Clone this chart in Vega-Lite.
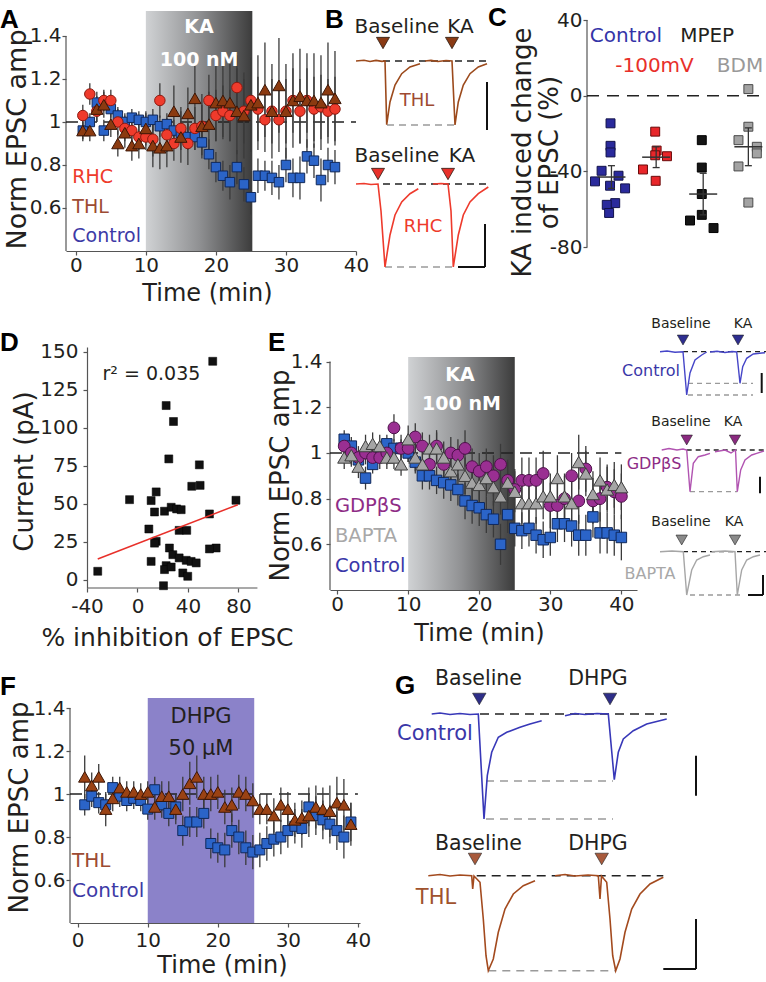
{
"$schema": "https://vega.github.io/schema/vega-lite/v6.json",
"padding": {"left": 0, "top": 5, "right": 0, "bottom": 0},
"config": {
  "font": "DejaVu Sans",
  "view": {"stroke": null},
  "axis": {"grid": false, "labelFont": "DejaVu Sans", "titleFont": "DejaVu Sans", "labelFontSize": 20, "labelColor": "#231f20", "titleColor": "#231f20", "titleFontWeight": "normal", "domainColor": "#555555", "domainWidth": 1.2, "tickColor": "#555555", "tickWidth": 1.2, "tickSize": 4, "labelFlush": false, "labelOverlap": false, "labelBound": false},
  "title": {"font": "Liberation Sans", "fontSize": 26, "fontWeight": "bold", "color": "#000000", "anchor": "start", "frame": "group", "offset": 0, "baseline": "alphabetic"},
  "text": {"font": "DejaVu Sans"}
},
"datasets": {
"A": [
{"g":"Control","t":1,"v":0.96,"e":0.04},{"g":"Control","t":2,"v":1.0,"e":0.04},{"g":"Control","t":3,"v":1.09,"e":0.05},{"g":"Control","t":4,"v":0.96,"e":0.05},{"g":"Control","t":5,"v":1.06,"e":0.04},{"g":"Control","t":6,"v":1.03,"e":0.04},{"g":"Control","t":7,"v":1.0,"e":0.04},{"g":"Control","t":8,"v":1.02,"e":0.04},{"g":"Control","t":9,"v":1.01,"e":0.04},{"g":"Control","t":10,"v":1.0,"e":0.04},{"g":"Control","t":11,"v":1.01,"e":0.05},{"g":"Control","t":12,"v":0.98,"e":0.05},{"g":"Control","t":13,"v":0.99,"e":0.05},{"g":"Control","t":14,"v":0.96,"e":0.05},{"g":"Control","t":15,"v":0.95,"e":0.05},{"g":"Control","t":16,"v":0.93,"e":0.06},{"g":"Control","t":17,"v":0.93,"e":0.06},{"g":"Control","t":18,"v":0.905,"e":0.06},{"g":"Control","t":19,"v":0.85,"e":0.07},{"g":"Control","t":20,"v":0.79,"e":0.07},{"g":"Control","t":21,"v":0.75,"e":0.07},{"g":"Control","t":22,"v":0.72,"e":0.08},{"g":"Control","t":23,"v":0.79,"e":0.08},{"g":"Control","t":24,"v":0.71,"e":0.08},{"g":"Control","t":25,"v":0.65,"e":0.08},{"g":"Control","t":26,"v":0.75,"e":0.08},{"g":"Control","t":27,"v":0.75,"e":0.07},{"g":"Control","t":28,"v":0.74,"e":0.08},{"g":"Control","t":29,"v":0.72,"e":0.08},{"g":"Control","t":30,"v":0.8,"e":0.08},{"g":"Control","t":31,"v":0.74,"e":0.09},{"g":"Control","t":32,"v":0.74,"e":0.1},{"g":"Control","t":33,"v":0.84,"e":0.08},{"g":"Control","t":34,"v":0.82,"e":0.08},{"g":"Control","t":35,"v":0.73,"e":0.1},{"g":"Control","t":36,"v":0.8,"e":0.08},{"g":"Control","t":37,"v":0.79,"e":0.08},
{"g":"RHC","t":1,"v":1.03,"e":0.05},{"g":"RHC","t":2,"v":1.13,"e":0.05},{"g":"RHC","t":3,"v":1.05,"e":0.05},{"g":"RHC","t":4,"v":1.1,"e":0.05},{"g":"RHC","t":5,"v":1.1,"e":0.05},{"g":"RHC","t":6,"v":1.0,"e":0.06},{"g":"RHC","t":7,"v":0.97,"e":0.06},{"g":"RHC","t":8,"v":0.96,"e":0.06},{"g":"RHC","t":9,"v":0.93,"e":0.06},{"g":"RHC","t":10,"v":0.93,"e":0.06},{"g":"RHC","t":11,"v":0.92,"e":0.08},{"g":"RHC","t":12,"v":1.1,"e":0.08},{"g":"RHC","t":13,"v":0.94,"e":0.08},{"g":"RHC","t":14,"v":0.9,"e":0.08},{"g":"RHC","t":15,"v":0.97,"e":0.1},{"g":"RHC","t":16,"v":0.9,"e":0.1},{"g":"RHC","t":17,"v":0.97,"e":0.1},{"g":"RHC","t":18,"v":0.98,"e":0.1},{"g":"RHC","t":19,"v":1.1,"e":0.12},{"g":"RHC","t":20,"v":1.03,"e":0.12},{"g":"RHC","t":21,"v":1.05,"e":0.12},{"g":"RHC","t":22,"v":1.03,"e":0.12},{"g":"RHC","t":23,"v":1.16,"e":0.15},{"g":"RHC","t":24,"v":1.05,"e":0.15},{"g":"RHC","t":25,"v":1.1,"e":0.15},{"g":"RHC","t":26,"v":1.06,"e":0.15},{"g":"RHC","t":27,"v":1.01,"e":0.15},{"g":"RHC","t":28,"v":1.05,"e":0.15},{"g":"RHC","t":29,"v":1.01,"e":0.15},{"g":"RHC","t":30,"v":1.05,"e":0.15},{"g":"RHC","t":31,"v":1.1,"e":0.15},{"g":"RHC","t":32,"v":1.05,"e":0.15},{"g":"RHC","t":33,"v":1.1,"e":0.15},{"g":"RHC","t":34,"v":1.06,"e":0.15},{"g":"RHC","t":35,"v":1.07,"e":0.15},{"g":"RHC","t":36,"v":1.05,"e":0.15},{"g":"RHC","t":37,"v":1.06,"e":0.15},
{"g":"THL","t":1,"v":0.96,"e":0.05},{"g":"THL","t":2,"v":0.96,"e":0.05},{"g":"THL","t":3,"v":1.06,"e":0.06},{"g":"THL","t":4,"v":1.08,"e":0.06},{"g":"THL","t":5,"v":0.99,"e":0.06},{"g":"THL","t":6,"v":0.9,"e":0.06},{"g":"THL","t":7,"v":0.95,"e":0.07},{"g":"THL","t":8,"v":0.89,"e":0.07},{"g":"THL","t":9,"v":0.9,"e":0.07},{"g":"THL","t":10,"v":0.97,"e":0.08},{"g":"THL","t":11,"v":0.89,"e":0.1},{"g":"THL","t":12,"v":0.88,"e":0.1},{"g":"THL","t":13,"v":0.89,"e":0.1},{"g":"THL","t":14,"v":1.05,"e":0.12},{"g":"THL","t":15,"v":0.93,"e":0.12},{"g":"THL","t":16,"v":1.04,"e":0.12},{"g":"THL","t":17,"v":1.11,"e":0.15},{"g":"THL","t":18,"v":0.98,"e":0.15},{"g":"THL","t":19,"v":0.99,"e":0.15},{"g":"THL","t":20,"v":1.09,"e":0.18},{"g":"THL","t":21,"v":1.1,"e":0.18},{"g":"THL","t":22,"v":1.09,"e":0.18},{"g":"THL","t":23,"v":1.05,"e":0.2},{"g":"THL","t":24,"v":1.03,"e":0.2},{"g":"THL","t":25,"v":1.08,"e":0.22},{"g":"THL","t":26,"v":1.09,"e":0.22},{"g":"THL","t":27,"v":1.15,"e":0.22},{"g":"THL","t":28,"v":1.05,"e":0.22},{"g":"THL","t":29,"v":1.17,"e":0.22},{"g":"THL","t":30,"v":1.05,"e":0.22},{"g":"THL","t":31,"v":1.1,"e":0.22},{"g":"THL","t":32,"v":1.12,"e":0.22},{"g":"THL","t":33,"v":1.1,"e":0.22},{"g":"THL","t":34,"v":1.1,"e":0.22},{"g":"THL","t":35,"v":1.09,"e":0.22},{"g":"THL","t":36,"v":1.15,"e":0.22},{"g":"THL","t":37,"v":1.11,"e":0.22}
],
"E": [
{"g":"Control","t":1,"v":1.06,"e":0.04},{"g":"Control","t":2,"v":1.03,"e":0.04},{"g":"Control","t":3,"v":0.97,"e":0.04},{"g":"Control","t":4,"v":0.89,"e":0.05},{"g":"Control","t":5,"v":0.95,"e":0.04},{"g":"Control","t":6,"v":1.0,"e":0.04},{"g":"Control","t":7,"v":1.04,"e":0.04},{"g":"Control","t":8,"v":1.02,"e":0.04},{"g":"Control","t":9,"v":1.02,"e":0.04},{"g":"Control","t":10,"v":1.0,"e":0.04},{"g":"Control","t":11,"v":0.96,"e":0.05},{"g":"Control","t":12,"v":0.9,"e":0.06},{"g":"Control","t":13,"v":0.9,"e":0.06},{"g":"Control","t":14,"v":0.88,"e":0.06},{"g":"Control","t":15,"v":0.87,"e":0.07},{"g":"Control","t":16,"v":0.86,"e":0.07},{"g":"Control","t":17,"v":0.84,"e":0.07},{"g":"Control","t":18,"v":0.79,"e":0.08},{"g":"Control","t":19,"v":0.77,"e":0.08},{"g":"Control","t":20,"v":0.76,"e":0.08},{"g":"Control","t":21,"v":0.73,"e":0.08},{"g":"Control","t":22,"v":0.71,"e":0.08},{"g":"Control","t":23,"v":0.6,"e":0.09},{"g":"Control","t":24,"v":0.73,"e":0.08},{"g":"Control","t":25,"v":0.67,"e":0.08},{"g":"Control","t":26,"v":0.66,"e":0.08},{"g":"Control","t":27,"v":0.67,"e":0.08},{"g":"Control","t":28,"v":0.64,"e":0.08},{"g":"Control","t":29,"v":0.62,"e":0.08},{"g":"Control","t":30,"v":0.63,"e":0.08},{"g":"Control","t":31,"v":0.69,"e":0.08},{"g":"Control","t":32,"v":0.69,"e":0.08},{"g":"Control","t":33,"v":0.68,"e":0.09},{"g":"Control","t":34,"v":0.64,"e":0.09},{"g":"Control","t":35,"v":0.64,"e":0.09},{"g":"Control","t":36,"v":0.72,"e":0.09},{"g":"Control","t":37,"v":0.65,"e":0.09},{"g":"Control","t":38,"v":0.65,"e":0.09},{"g":"Control","t":39,"v":0.64,"e":0.09},{"g":"Control","t":40,"v":0.63,"e":0.1},
{"g":"GDP","t":1,"v":1.03,"e":0.05},{"g":"GDP","t":2,"v":1.0,"e":0.05},{"g":"GDP","t":3,"v":0.98,"e":0.05},{"g":"GDP","t":4,"v":1.0,"e":0.05},{"g":"GDP","t":5,"v":0.98,"e":0.05},{"g":"GDP","t":6,"v":0.98,"e":0.05},{"g":"GDP","t":7,"v":1.0,"e":0.05},{"g":"GDP","t":8,"v":1.11,"e":0.06},{"g":"GDP","t":9,"v":1.02,"e":0.06},{"g":"GDP","t":10,"v":1.02,"e":0.06},{"g":"GDP","t":11,"v":1.07,"e":0.06},{"g":"GDP","t":12,"v":1.03,"e":0.06},{"g":"GDP","t":13,"v":0.95,"e":0.06},{"g":"GDP","t":14,"v":1.03,"e":0.07},{"g":"GDP","t":15,"v":0.95,"e":0.07},{"g":"GDP","t":16,"v":1.0,"e":0.07},{"g":"GDP","t":17,"v":0.99,"e":0.07},{"g":"GDP","t":18,"v":1.02,"e":0.08},{"g":"GDP","t":19,"v":0.94,"e":0.08},{"g":"GDP","t":20,"v":0.92,"e":0.08},{"g":"GDP","t":21,"v":0.94,"e":0.08},{"g":"GDP","t":22,"v":0.9,"e":0.09},{"g":"GDP","t":23,"v":0.95,"e":0.09},{"g":"GDP","t":24,"v":0.88,"e":0.09},{"g":"GDP","t":25,"v":0.84,"e":0.09},{"g":"GDP","t":26,"v":0.88,"e":0.1},{"g":"GDP","t":27,"v":0.88,"e":0.1},{"g":"GDP","t":28,"v":0.88,"e":0.1},{"g":"GDP","t":29,"v":0.91,"e":0.1},{"g":"GDP","t":30,"v":0.77,"e":0.1},{"g":"GDP","t":31,"v":0.77,"e":0.1},{"g":"GDP","t":32,"v":0.8,"e":0.1},{"g":"GDP","t":33,"v":0.9,"e":0.1},{"g":"GDP","t":34,"v":0.79,"e":0.1},{"g":"GDP","t":35,"v":0.93,"e":0.1},{"g":"GDP","t":36,"v":0.79,"e":0.1},{"g":"GDP","t":37,"v":0.8,"e":0.1},{"g":"GDP","t":38,"v":0.85,"e":0.1},{"g":"GDP","t":39,"v":0.83,"e":0.1},{"g":"GDP","t":40,"v":0.81,"e":0.1},
{"g":"BAPTA","t":1,"v":0.98,"e":0.05},{"g":"BAPTA","t":2,"v":0.99,"e":0.05},{"g":"BAPTA","t":3,"v":0.94,"e":0.05},{"g":"BAPTA","t":4,"v":1.03,"e":0.05},{"g":"BAPTA","t":5,"v":1.04,"e":0.05},{"g":"BAPTA","t":6,"v":1.03,"e":0.05},{"g":"BAPTA","t":7,"v":0.98,"e":0.05},{"g":"BAPTA","t":8,"v":0.98,"e":0.05},{"g":"BAPTA","t":9,"v":0.95,"e":0.05},{"g":"BAPTA","t":10,"v":1.06,"e":0.06},{"g":"BAPTA","t":11,"v":0.98,"e":0.06},{"g":"BAPTA","t":12,"v":0.95,"e":0.06},{"g":"BAPTA","t":13,"v":1.02,"e":0.06},{"g":"BAPTA","t":14,"v":1.02,"e":0.07},{"g":"BAPTA","t":15,"v":0.98,"e":0.07},{"g":"BAPTA","t":16,"v":0.92,"e":0.07},{"g":"BAPTA","t":17,"v":0.95,"e":0.07},{"g":"BAPTA","t":18,"v":0.9,"e":0.08},{"g":"BAPTA","t":19,"v":0.87,"e":0.08},{"g":"BAPTA","t":20,"v":0.86,"e":0.08},{"g":"BAPTA","t":21,"v":0.89,"e":0.08},{"g":"BAPTA","t":22,"v":0.85,"e":0.08},{"g":"BAPTA","t":23,"v":0.81,"e":0.08},{"g":"BAPTA","t":24,"v":0.87,"e":0.09},{"g":"BAPTA","t":25,"v":0.83,"e":0.09},{"g":"BAPTA","t":26,"v":0.78,"e":0.09},{"g":"BAPTA","t":27,"v":0.78,"e":0.09},{"g":"BAPTA","t":28,"v":0.78,"e":0.09},{"g":"BAPTA","t":29,"v":0.81,"e":0.1},{"g":"BAPTA","t":30,"v":0.81,"e":0.1},{"g":"BAPTA","t":31,"v":0.89,"e":0.1},{"g":"BAPTA","t":32,"v":0.81,"e":0.1},{"g":"BAPTA","t":33,"v":0.78,"e":0.1},{"g":"BAPTA","t":34,"v":0.96,"e":0.12},{"g":"BAPTA","t":35,"v":0.91,"e":0.1},{"g":"BAPTA","t":36,"v":0.82,"e":0.1},{"g":"BAPTA","t":37,"v":0.88,"e":0.1},{"g":"BAPTA","t":38,"v":0.84,"e":0.1},{"g":"BAPTA","t":39,"v":0.86,"e":0.1},{"g":"BAPTA","t":40,"v":0.85,"e":0.1}
],
"F": [
{"g":"Control","t":1,"v":0.95,"e":0.05},{"g":"Control","t":2,"v":0.99,"e":0.05},{"g":"Control","t":3,"v":0.96,"e":0.05},{"g":"Control","t":4,"v":0.95,"e":0.05},{"g":"Control","t":5,"v":1.03,"e":0.05},{"g":"Control","t":6,"v":0.99,"e":0.05},{"g":"Control","t":7,"v":0.97,"e":0.05},{"g":"Control","t":8,"v":0.98,"e":0.05},{"g":"Control","t":9,"v":0.97,"e":0.05},{"g":"Control","t":10,"v":0.93,"e":0.05},{"g":"Control","t":11,"v":1.02,"e":0.06},{"g":"Control","t":12,"v":0.95,"e":0.06},{"g":"Control","t":13,"v":0.91,"e":0.06},{"g":"Control","t":14,"v":0.94,"e":0.06},{"g":"Control","t":15,"v":0.83,"e":0.07},{"g":"Control","t":16,"v":0.87,"e":0.07},{"g":"Control","t":17,"v":0.87,"e":0.07},{"g":"Control","t":18,"v":0.91,"e":0.07},{"g":"Control","t":19,"v":0.77,"e":0.07},{"g":"Control","t":20,"v":0.75,"e":0.07},{"g":"Control","t":21,"v":0.74,"e":0.08},{"g":"Control","t":22,"v":0.83,"e":0.08},{"g":"Control","t":23,"v":0.8,"e":0.08},{"g":"Control","t":24,"v":0.75,"e":0.08},{"g":"Control","t":25,"v":0.73,"e":0.08},{"g":"Control","t":26,"v":0.74,"e":0.08},{"g":"Control","t":27,"v":0.77,"e":0.08},{"g":"Control","t":28,"v":0.79,"e":0.08},{"g":"Control","t":29,"v":0.8,"e":0.08},{"g":"Control","t":30,"v":0.83,"e":0.08},{"g":"Control","t":31,"v":0.85,"e":0.08},{"g":"Control","t":32,"v":0.84,"e":0.09},{"g":"Control","t":33,"v":0.94,"e":0.09},{"g":"Control","t":34,"v":0.9,"e":0.09},{"g":"Control","t":35,"v":0.88,"e":0.09},{"g":"Control","t":36,"v":0.86,"e":0.09},{"g":"Control","t":37,"v":0.83,"e":0.09},{"g":"Control","t":38,"v":0.8,"e":0.1},{"g":"Control","t":39,"v":0.87,"e":0.09},
{"g":"THL","t":1,"v":1.08,"e":0.1},{"g":"THL","t":2,"v":1.04,"e":0.06},{"g":"THL","t":3,"v":1.08,"e":0.06},{"g":"THL","t":4,"v":0.93,"e":0.08},{"g":"THL","t":5,"v":0.98,"e":0.06},{"g":"THL","t":6,"v":1.03,"e":0.05},{"g":"THL","t":7,"v":1.01,"e":0.05},{"g":"THL","t":8,"v":1.01,"e":0.05},{"g":"THL","t":9,"v":1.0,"e":0.05},{"g":"THL","t":10,"v":1.01,"e":0.05},{"g":"THL","t":11,"v":0.94,"e":0.06},{"g":"THL","t":12,"v":0.99,"e":0.07},{"g":"THL","t":13,"v":0.99,"e":0.07},{"g":"THL","t":14,"v":0.93,"e":0.07},{"g":"THL","t":15,"v":1.0,"e":0.08},{"g":"THL","t":16,"v":1.05,"e":0.1},{"g":"THL","t":17,"v":1.08,"e":0.1},{"g":"THL","t":18,"v":1.0,"e":0.08},{"g":"THL","t":19,"v":1.0,"e":0.08},{"g":"THL","t":20,"v":1.01,"e":0.08},{"g":"THL","t":21,"v":0.94,"e":0.08},{"g":"THL","t":22,"v":0.95,"e":0.08},{"g":"THL","t":23,"v":1.01,"e":0.08},{"g":"THL","t":24,"v":1.0,"e":0.08},{"g":"THL","t":25,"v":0.97,"e":0.08},{"g":"THL","t":26,"v":0.93,"e":0.07},{"g":"THL","t":27,"v":0.93,"e":0.07},{"g":"THL","t":28,"v":0.9,"e":0.08},{"g":"THL","t":29,"v":0.95,"e":0.08},{"g":"THL","t":30,"v":0.93,"e":0.08},{"g":"THL","t":31,"v":0.88,"e":0.08},{"g":"THL","t":32,"v":0.89,"e":0.08},{"g":"THL","t":33,"v":0.9,"e":0.1},{"g":"THL","t":34,"v":0.94,"e":0.1},{"g":"THL","t":35,"v":0.93,"e":0.1},{"g":"THL","t":36,"v":0.92,"e":0.12},{"g":"THL","t":37,"v":0.96,"e":0.12},{"g":"THL","t":38,"v":0.95,"e":0.12},{"g":"THL","t":39,"v":0.86,"e":0.1}
],
"C": [
{"g":"Control","x":0.5,"v":-14.6},{"g":"Control","x":0.5,"v":-26.5},{"g":"Control","x":0.5,"v":-30},{"g":"Control","x":0.31,"v":-39.7},{"g":"Control","x":0.17,"v":-45.3},{"g":"Control","x":0.67,"v":-42.3},{"g":"Control","x":0.49,"v":-47.6},{"g":"Control","x":0.81,"v":-49},{"g":"Control","x":0.6,"v":-56.8},{"g":"Control","x":0.42,"v":-57.7},{"g":"Control","x":0.47,"v":-62},
{"g":"-100mV","x":1.45,"v":-19},{"g":"-100mV","x":1.48,"v":-29},{"g":"-100mV","x":1.45,"v":-31.5},{"g":"-100mV","x":1.7,"v":-32},{"g":"-100mV","x":1.19,"v":-39},{"g":"-100mV","x":1.46,"v":-45},
{"g":"MPEP","x":2.44,"v":-23.5},{"g":"MPEP","x":2.44,"v":-38},{"g":"MPEP","x":2.44,"v":-52},{"g":"MPEP","x":2.44,"v":-63},{"g":"MPEP","x":2.19,"v":-66},{"g":"MPEP","x":2.69,"v":-70},
{"g":"BDM","x":3.43,"v":3.5},{"g":"BDM","x":3.43,"v":-16.4},{"g":"BDM","x":3.22,"v":-23.5},{"g":"BDM","x":3.61,"v":-27},{"g":"BDM","x":3.61,"v":-30.5},{"g":"BDM","x":3.22,"v":-37.4},{"g":"BDM","x":3.43,"v":-56.5}
],
"Csum": [
{"g":"Control","x":0.52,"mean":-43,"lo":-49,"hi":-37},
{"g":"-100mV","x":1.47,"mean":-32.5,"lo":-38,"hi":-27},
{"g":"MPEP","x":2.47,"mean":-52,"lo":-63,"hi":-41},
{"g":"BDM","x":3.43,"mean":-27,"lo":-37,"hi":-17}
],
"D": [
{"x":-31.5,"y":5.5},{"x":-6.3,"y":52.6},{"x":14.8,"y":57.7},{"x":10.8,"y":52},{"x":22.7,"y":114.5},{"x":28.5,"y":104},{"x":24.8,"y":79.4},{"x":49,"y":75.5},{"x":43,"y":61.4},{"x":49.6,"y":62},{"x":59.6,"y":143.6},{"x":78,"y":52.2},{"x":57,"y":43.2},{"x":13.5,"y":44.5},{"x":21.4,"y":45},{"x":26.7,"y":47.6},{"x":31,"y":46.5},{"x":34.6,"y":46},{"x":9,"y":33.3},{"x":33,"y":32.4},{"x":39,"y":32.4},{"x":14.8,"y":25.2},{"x":13.5,"y":24},{"x":25.3,"y":20.8},{"x":62.3,"y":20.8},{"x":57,"y":20.2},{"x":10.8,"y":12},{"x":28,"y":16.4},{"x":33,"y":14.3},{"x":38.6,"y":12.7},{"x":42.5,"y":12},{"x":46.5,"y":11},{"x":22.7,"y":9.2},{"x":21.4,"y":6.6},{"x":26.7,"y":8.3},{"x":35.9,"y":4.4},{"x":39.8,"y":2.2},{"x":20.6,"y":-4}
],
"tr": [
{"p":"B","tr":"THL_B","s":"a","x":0,"v":0},{"p":"B","tr":"THL_B","s":"a","x":8,"v":0.8},{"p":"B","tr":"THL_B","s":"a","x":14,"v":-0.5},{"p":"B","tr":"THL_B","s":"a","x":20,"v":0.6},{"p":"B","tr":"THL_B","s":"a","x":26,"v":-0.4},{"p":"B","tr":"THL_B","s":"a","x":29,"v":0},{"p":"B","tr":"THL_B","s":"a","x":30.7,"v":-63.7},{"p":"B","tr":"THL_B","s":"a","x":34,"v":-41},{"p":"B","tr":"THL_B","s":"a","x":39,"v":-24},{"p":"B","tr":"THL_B","s":"a","x":45.7,"v":-12.7},{"p":"B","tr":"THL_B","s":"a","x":54,"v":-6},{"p":"B","tr":"THL_B","s":"a","x":64,"v":-2.7},
{"p":"B","tr":"THL_B","s":"b","x":69,"v":0},{"p":"B","tr":"THL_B","s":"b","x":75,"v":0.6},{"p":"B","tr":"THL_B","s":"b","x":82,"v":-0.5},{"p":"B","tr":"THL_B","s":"b","x":90,"v":0.5},{"p":"B","tr":"THL_B","s":"b","x":96,"v":0},{"p":"B","tr":"THL_B","s":"b","x":99,"v":-64},{"p":"B","tr":"THL_B","s":"b","x":102.3,"v":-41},{"p":"B","tr":"THL_B","s":"b","x":107.3,"v":-24},{"p":"B","tr":"THL_B","s":"b","x":114,"v":-12.7},{"p":"B","tr":"THL_B","s":"b","x":122.3,"v":-6},{"p":"B","tr":"THL_B","s":"b","x":131,"v":-2.7},
{"p":"B","tr":"RHC_B","s":"a","x":0,"v":-123},{"p":"B","tr":"RHC_B","s":"a","x":8,"v":-122.5},{"p":"B","tr":"RHC_B","s":"a","x":15,"v":-123.5},{"p":"B","tr":"RHC_B","s":"a","x":22,"v":-123},{"p":"B","tr":"RHC_B","s":"a","x":25,"v":-150},{"p":"B","tr":"RHC_B","s":"a","x":29,"v":-206},{"p":"B","tr":"RHC_B","s":"a","x":34,"v":-174},{"p":"B","tr":"RHC_B","s":"a","x":39,"v":-154},{"p":"B","tr":"RHC_B","s":"a","x":45.7,"v":-141},{"p":"B","tr":"RHC_B","s":"a","x":54,"v":-132.7},{"p":"B","tr":"RHC_B","s":"a","x":62.3,"v":-127.7},
{"p":"B","tr":"RHC_B","s":"b","x":77,"v":-123},{"p":"B","tr":"RHC_B","s":"b","x":85,"v":-122.5},{"p":"B","tr":"RHC_B","s":"b","x":92,"v":-123},{"p":"B","tr":"RHC_B","s":"b","x":95,"v":-150},{"p":"B","tr":"RHC_B","s":"b","x":97.3,"v":-206},{"p":"B","tr":"RHC_B","s":"b","x":102.3,"v":-174},{"p":"B","tr":"RHC_B","s":"b","x":107.3,"v":-154},{"p":"B","tr":"RHC_B","s":"b","x":114,"v":-141},{"p":"B","tr":"RHC_B","s":"b","x":122.3,"v":-132.7},{"p":"B","tr":"RHC_B","s":"b","x":132.3,"v":-126},
{"p":"E","tr":"Ctl_E","s":"a","x":23,"v":-4.7},{"p":"E","tr":"Ctl_E","s":"a","x":30,"v":-4},{"p":"E","tr":"Ctl_E","s":"a","x":38,"v":-5.3},{"p":"E","tr":"Ctl_E","s":"a","x":46,"v":-4.7},{"p":"E","tr":"Ctl_E","s":"a","x":49.7,"v":-48},{"p":"E","tr":"Ctl_E","s":"a","x":53,"v":-26},{"p":"E","tr":"Ctl_E","s":"a","x":58,"v":-13},{"p":"E","tr":"Ctl_E","s":"a","x":64.7,"v":-8},{"p":"E","tr":"Ctl_E","s":"a","x":69.7,"v":-5},
{"p":"E","tr":"Ctl_E","s":"b","x":73,"v":-5},{"p":"E","tr":"Ctl_E","s":"b","x":80,"v":-4.3},{"p":"E","tr":"Ctl_E","s":"b","x":88,"v":-5.5},{"p":"E","tr":"Ctl_E","s":"b","x":95,"v":-4.5},{"p":"E","tr":"Ctl_E","s":"b","x":99.7,"v":-5},{"p":"E","tr":"Ctl_E","s":"b","x":103,"v":-36.3},{"p":"E","tr":"Ctl_E","s":"b","x":105.7,"v":-19.7},{"p":"E","tr":"Ctl_E","s":"b","x":109.7,"v":-11.3},{"p":"E","tr":"Ctl_E","s":"b","x":116.3,"v":-7},{"p":"E","tr":"Ctl_E","s":"b","x":128,"v":-5.7},
{"p":"E","tr":"GDP_E","s":"a","x":24.7,"v":-103},{"p":"E","tr":"GDP_E","s":"a","x":32,"v":-101.5},{"p":"E","tr":"GDP_E","s":"a","x":40,"v":-103},{"p":"E","tr":"GDP_E","s":"a","x":46,"v":-102},{"p":"E","tr":"GDP_E","s":"a","x":49.7,"v":-103},{"p":"E","tr":"GDP_E","s":"a","x":53,"v":-144.7},{"p":"E","tr":"GDP_E","s":"a","x":56.3,"v":-116.3},{"p":"E","tr":"GDP_E","s":"a","x":61.3,"v":-109.7},{"p":"E","tr":"GDP_E","s":"a","x":68,"v":-108},{"p":"E","tr":"GDP_E","s":"a","x":73,"v":-106.3},
{"p":"E","tr":"GDP_E","s":"b","x":78,"v":-104.7},{"p":"E","tr":"GDP_E","s":"b","x":88,"v":-103},{"p":"E","tr":"GDP_E","s":"b","x":94,"v":-106},{"p":"E","tr":"GDP_E","s":"b","x":98.5,"v":-103},{"p":"E","tr":"GDP_E","s":"b","x":100.3,"v":-144.7},{"p":"E","tr":"GDP_E","s":"b","x":103.7,"v":-123},{"p":"E","tr":"GDP_E","s":"b","x":108,"v":-113},{"p":"E","tr":"GDP_E","s":"b","x":114.7,"v":-108},{"p":"E","tr":"GDP_E","s":"b","x":119.7,"v":-106.3},{"p":"E","tr":"GDP_E","s":"b","x":127,"v":-104},
{"p":"E","tr":"BAP_E","s":"a","x":23,"v":-204.7},{"p":"E","tr":"BAP_E","s":"a","x":35,"v":-204},{"p":"E","tr":"BAP_E","s":"a","x":46.3,"v":-204.7},{"p":"E","tr":"BAP_E","s":"a","x":49.7,"v":-248},{"p":"E","tr":"BAP_E","s":"a","x":54.7,"v":-223},{"p":"E","tr":"BAP_E","s":"a","x":59.7,"v":-213},{"p":"E","tr":"BAP_E","s":"a","x":66.3,"v":-209.7},{"p":"E","tr":"BAP_E","s":"a","x":73,"v":-208},
{"p":"E","tr":"BAP_E","s":"b","x":74.7,"v":-204.7},{"p":"E","tr":"BAP_E","s":"b","x":88,"v":-204},{"p":"E","tr":"BAP_E","s":"b","x":98,"v":-204.7},{"p":"E","tr":"BAP_E","s":"b","x":100.3,"v":-248},{"p":"E","tr":"BAP_E","s":"b","x":104.7,"v":-223},{"p":"E","tr":"BAP_E","s":"b","x":109.7,"v":-213},{"p":"E","tr":"BAP_E","s":"b","x":116.3,"v":-209.7},{"p":"E","tr":"BAP_E","s":"b","x":123,"v":-208},
{"p":"G","tr":"Ctl_G","s":"a","x":71.7,"v":-16},{"p":"G","tr":"Ctl_G","s":"a","x":80,"v":-15},{"p":"G","tr":"Ctl_G","s":"a","x":90,"v":-16.5},{"p":"G","tr":"Ctl_G","s":"a","x":100,"v":-15.5},{"p":"G","tr":"Ctl_G","s":"a","x":110,"v":-16.5},{"p":"G","tr":"Ctl_G","s":"a","x":118.3,"v":-16},{"p":"G","tr":"Ctl_G","s":"a","x":124,"v":-121},{"p":"G","tr":"Ctl_G","s":"a","x":127.3,"v":-77.7},{"p":"G","tr":"Ctl_G","s":"a","x":131.7,"v":-54.3},{"p":"G","tr":"Ctl_G","s":"a","x":138.3,"v":-39.3},{"p":"G","tr":"Ctl_G","s":"a","x":146.7,"v":-34.3},{"p":"G","tr":"Ctl_G","s":"a","x":160,"v":-29.3},{"p":"G","tr":"Ctl_G","s":"a","x":170,"v":-26},{"p":"G","tr":"Ctl_G","s":"a","x":181.7,"v":-22.7},
{"p":"G","tr":"Ctl_G","s":"b","x":205,"v":-17.7},{"p":"G","tr":"Ctl_G","s":"b","x":215,"v":-15.5},{"p":"G","tr":"Ctl_G","s":"b","x":225,"v":-16.5},{"p":"G","tr":"Ctl_G","s":"b","x":237,"v":-15.5},{"p":"G","tr":"Ctl_G","s":"b","x":248.3,"v":-16},{"p":"G","tr":"Ctl_G","s":"b","x":254.3,"v":-81.7},{"p":"G","tr":"Ctl_G","s":"b","x":258.3,"v":-54.3},{"p":"G","tr":"Ctl_G","s":"b","x":263.3,"v":-41},{"p":"G","tr":"Ctl_G","s":"b","x":273.3,"v":-32.7},{"p":"G","tr":"Ctl_G","s":"b","x":286.7,"v":-26},{"p":"G","tr":"Ctl_G","s":"b","x":306.7,"v":-21},
{"p":"G","tr":"THL_G","s":"a","x":68.3,"v":-177.7},{"p":"G","tr":"THL_G","s":"a","x":80,"v":-176.5},{"p":"G","tr":"THL_G","s":"a","x":90,"v":-178},{"p":"G","tr":"THL_G","s":"a","x":100,"v":-177},{"p":"G","tr":"THL_G","s":"a","x":111.7,"v":-177.7},{"p":"G","tr":"THL_G","s":"a","x":112.7,"v":-191},{"p":"G","tr":"THL_G","s":"a","x":114,"v":-178},{"p":"G","tr":"THL_G","s":"a","x":120,"v":-184.3},{"p":"G","tr":"THL_G","s":"a","x":123.3,"v":-221},{"p":"G","tr":"THL_G","s":"a","x":126,"v":-257.7},{"p":"G","tr":"THL_G","s":"a","x":128.3,"v":-272.7},{"p":"G","tr":"THL_G","s":"a","x":133.3,"v":-261},{"p":"G","tr":"THL_G","s":"a","x":138.3,"v":-234.3},{"p":"G","tr":"THL_G","s":"a","x":145,"v":-211},{"p":"G","tr":"THL_G","s":"a","x":153.3,"v":-196},{"p":"G","tr":"THL_G","s":"a","x":163.3,"v":-187.7},{"p":"G","tr":"THL_G","s":"a","x":175,"v":-182.7},
{"p":"G","tr":"THL_G","s":"b","x":195,"v":-177.7},{"p":"G","tr":"THL_G","s":"b","x":205,"v":-176.5},{"p":"G","tr":"THL_G","s":"b","x":215,"v":-178},{"p":"G","tr":"THL_G","s":"b","x":228,"v":-177},{"p":"G","tr":"THL_G","s":"b","x":238.3,"v":-177.7},{"p":"G","tr":"THL_G","s":"b","x":240,"v":-201},{"p":"G","tr":"THL_G","s":"b","x":241.5,"v":-178},{"p":"G","tr":"THL_G","s":"b","x":246.7,"v":-184.3},{"p":"G","tr":"THL_G","s":"b","x":250,"v":-221},{"p":"G","tr":"THL_G","s":"b","x":252.7,"v":-257.7},{"p":"G","tr":"THL_G","s":"b","x":255.7,"v":-272.7},{"p":"G","tr":"THL_G","s":"b","x":260,"v":-261},{"p":"G","tr":"THL_G","s":"b","x":265,"v":-234.3},{"p":"G","tr":"THL_G","s":"b","x":271.7,"v":-211},{"p":"G","tr":"THL_G","s":"b","x":280,"v":-196},{"p":"G","tr":"THL_G","s":"b","x":290,"v":-186},{"p":"G","tr":"THL_G","s":"b","x":303.3,"v":-179.3}
],
"lv": [
{"p":"B","tr":"THL_B","k":"base","x":27,"x2":131,"v":0},{"p":"B","tr":"THL_B","k":"peak","x":31,"x2":99,"v":-64},{"p":"B","tr":"RHC_B","k":"base","x":27,"x2":131,"v":-123},{"p":"B","tr":"RHC_B","k":"peak","x":29,"x2":97,"v":-206},
{"p":"E","tr":"Ctl_E","k":"base","x":46,"x2":129,"v":-4.7},{"p":"E","tr":"Ctl_E","k":"peak","x":51,"x2":116,"v":-36.3},{"p":"E","tr":"Ctl_E","k":"peak","x":51,"x2":116,"v":-48},{"p":"E","tr":"GDP_E","k":"base","x":49.7,"x2":129,"v":-103},{"p":"E","tr":"GDP_E","k":"peak","x":53,"x2":100.3,"v":-144.7},{"p":"E","tr":"BAP_E","k":"base","x":46,"x2":129,"v":-204.7},{"p":"E","tr":"BAP_E","k":"peak","x":53,"x2":103,"v":-248},
{"p":"G","tr":"Ctl_G","k":"base","x":120,"x2":307,"v":-16},{"p":"G","tr":"Ctl_G","k":"peak","x":126,"x2":253,"v":-83},{"p":"G","tr":"Ctl_G","k":"peak","x":126,"x2":253,"v":-121},{"p":"G","tr":"THL_G","k":"base","x":116.7,"x2":303.3,"v":-177.7},{"p":"G","tr":"THL_G","k":"peak","x":128.3,"x2":255,"v":-272.7}
],
"st": [
{"p":"B","tr":"THL_B","x":27,"v":18},{"p":"B","tr":"THL_B","x":96,"v":18},{"p":"B","tr":"RHC_B","x":22,"v":-113},{"p":"B","tr":"RHC_B","x":92,"v":-113},
{"p":"E","tr":"Ctl_E","x":46,"v":7},{"p":"E","tr":"Ctl_E","x":101,"v":7},{"p":"E","tr":"GDP_E","x":49.7,"v":-93},{"p":"E","tr":"GDP_E","x":98,"v":-93},{"p":"E","tr":"BAP_E","x":44.7,"v":-193},{"p":"E","tr":"BAP_E","x":98,"v":-193},
{"p":"G","tr":"Ctl_G","x":119.3,"v":-1},{"p":"G","tr":"Ctl_G","x":250,"v":-1},{"p":"G","tr":"THL_G","x":115,"v":-161},{"p":"G","tr":"THL_G","x":241.7,"v":-161}
],
"lab": [
{"p":"B","x":41,"v":28,"text":"Baseline"},{"p":"B","x":104.5,"v":28,"text":"KA"},{"p":"B","x":41,"v":-101,"text":"Baseline"},{"p":"B","x":106,"v":-101,"text":"KA"},
{"p":"E","x":44,"v":19,"text":"Baseline"},{"p":"E","x":106,"v":19,"text":"KA"},{"p":"E","x":44,"v":-79,"text":"Baseline"},{"p":"E","x":96,"v":-79,"text":"KA"},{"p":"E","x":44,"v":-179,"text":"Baseline"},{"p":"E","x":97,"v":-179,"text":"KA"},
{"p":"G","x":118.5,"v":13,"text":"Baseline"},{"p":"G","x":238,"v":13,"text":"DHPG"},{"p":"G","x":118.5,"v":-152,"text":"Baseline"},{"p":"G","x":238,"v":-152,"text":"DHPG"}
],
"nm": [
{"p":"B","tr":"THL_B","x":61,"v":-45,"text":"THL"},{"p":"B","tr":"RHC_B","x":67,"v":-171,"text":"RHC"},
{"p":"E","tr":"Ctl_E","x":14,"v":-29,"text":"Control"},{"p":"E","tr":"GDP_E","x":17,"v":-122,"text":"GDPβS"},{"p":"E","tr":"BAP_E","x":13,"v":-232,"text":"BAPTA"},
{"p":"G","tr":"Ctl_G","x":75,"v":-42,"text":"Control"},{"p":"G","tr":"THL_G","x":76,"v":-206,"text":"THL"}
],
"sb": [
{"p":"B","x":131,"x2":131,"v":-21,"v2":-69},{"p":"B","x":129,"x2":129,"v":-163,"v2":-206},{"p":"B","x":102,"x2":129,"v":-206,"v2":-206},
{"p":"E","x":124.7,"x2":124.7,"v":-26,"v2":-46},{"p":"E","x":123,"x2":123,"v":-129.7,"v2":-146.3},{"p":"E","x":126,"x2":126,"v":-228,"v2":-248},{"p":"E","x":111,"x2":126,"v":-248,"v2":-248},
{"p":"G","x":336,"x2":336,"v":-57.7,"v2":-97.7},{"p":"G","x":336,"x2":336,"v":-221,"v2":-271},{"p":"G","x":303.3,"x2":336,"v":-271,"v2":-271}
]
},
"concat": [
{"hconcat": [
 {"width": 66, "height": 1, "data": {"values": [{}]}, "mark": {"type": "point", "size": 0, "opacity": 0}, "encoding": {}},
 {"width": 290, "height": 240,
  "title": {"text": "A", "dx": -66, "dy": 26},
  "layer": [
   {"data": {"values": [{}]}, "mark": {"type": "rect", "fill": {"gradient": "linear", "x1": 0, "y1": 0, "x2": 1, "y2": 0, "stops": [{"offset": 0, "color": "#d0d2d4"}, {"offset": 0.5, "color": "#909193"}, {"offset": 1, "color": "#3c3c3c"}]}},
    "encoding": {
     "x": {"datum": 10, "type": "quantitative", "scale": {"domain": [-1.4, 40], "nice": false, "zero": false}, "axis": {"values": [0,10,20,30,40], "title": "Time (min)", "titleFontSize": 24, "titleX": 141, "titleY": 49, "titleBaseline": "alphabetic", "titleAlign": "center", "labelPadding": 0}},
     "x2": {"datum": 25.2},
     "y": {"datum": 0.4, "type": "quantitative", "scale": {"domain": [0.4, 1.516], "nice": false, "zero": false}, "axis": {"values": [0.6,0.8,1,1.2,1.4], "format": "~g", "title": "Norm EPSC amp", "titleFontSize": 27, "titleX": -41, "titleY": 128, "titleBaseline": "alphabetic", "titleAlign": "center", "domain": false, "labelPadding": 1}},
     "y2": {"datum": 1.516}}},
   {"data": {"values": [{}]}, "mark": {"type": "rule", "color": "#555555", "strokeWidth": 1.2}, "encoding": {"x": {"datum": -1.4, "type": "quantitative"}, "y": {"datum": 0.4, "type": "quantitative"}, "y2": {"datum": 1.4}}},
   {"data": {"values": [{}]}, "mark": {"type": "rule", "color": "#222222", "strokeWidth": 1.5, "strokeDash": [12, 7]}, "encoding": {"x": {"datum": -1.4, "type": "quantitative"}, "x2": {"datum": 40}, "y": {"datum": 1, "type": "quantitative"}}},
   {"data": {"name": "A"}, "mark": {"type": "errorbar", "color": "#3a3a3a", "rule": {"strokeWidth": 1.3}}, "encoding": {"x": {"field": "t", "type": "quantitative", "title": "Time (min)"}, "y": {"field": "v", "type": "quantitative", "title": "Norm EPSC amp"}, "yError": {"field": "e"}}},
   {"data": {"name": "A"}, "transform": [{"filter": "datum.g == 'Control'"}], "mark": {"type": "point", "shape": "square", "filled": true, "fill": "#2b64c8", "stroke": "#10285a", "strokeWidth": 1, "size": 90, "opacity": 1}, "encoding": {"x": {"field": "t", "type": "quantitative", "title": "Time (min)"}, "y": {"field": "v", "type": "quantitative", "title": "Norm EPSC amp"}}},
   {"data": {"name": "A"}, "transform": [{"filter": "datum.g == 'RHC'"}], "mark": {"type": "point", "shape": "circle", "filled": true, "fill": "#ef3b2c", "stroke": "#8c1a10", "strokeWidth": 1, "size": 110, "opacity": 1}, "encoding": {"x": {"field": "t", "type": "quantitative", "title": "Time (min)"}, "y": {"field": "v", "type": "quantitative", "title": "Norm EPSC amp"}}},
   {"data": {"name": "A"}, "transform": [{"filter": "datum.g == 'THL'"}], "mark": {"type": "point", "shape": "triangle-up", "filled": true, "fill": "#8b3a10", "stroke": "#3c1606", "strokeWidth": 1, "size": 150, "opacity": 1}, "encoding": {"x": {"field": "t", "type": "quantitative", "title": "Time (min)"}, "y": {"field": "v", "type": "quantitative", "title": "Norm EPSC amp"}}},
   {"data": {"values": [{}]}, "mark": {"type": "text", "text": "KA", "fontSize": 19, "fontWeight": "bold", "color": "#ffffff", "align": "center", "baseline": "middle"}, "encoding": {"x": {"datum": 17.6, "type": "quantitative"}, "y": {"datum": 1.442, "type": "quantitative"}}},
   {"data": {"values": [{}]}, "mark": {"type": "text", "text": "100 nM", "fontSize": 19, "fontWeight": "bold", "color": "#ffffff", "align": "center", "baseline": "middle"}, "encoding": {"x": {"datum": 17.6, "type": "quantitative"}, "y": {"datum": 1.288, "type": "quantitative"}}},
   {"data": {"values": [{}]}, "mark": {"type": "text", "text": "RHC", "fontSize": 19, "color": "#ee3b2b", "align": "left", "baseline": "alphabetic"}, "encoding": {"x": {"datum": -0.5, "type": "quantitative"}, "y": {"datum": 0.716, "type": "quantitative"}}},
   {"data": {"values": [{}]}, "mark": {"type": "text", "text": "THL", "fontSize": 19, "color": "#9d4b33", "align": "left", "baseline": "alphabetic"}, "encoding": {"x": {"datum": -0.5, "type": "quantitative"}, "y": {"datum": 0.577, "type": "quantitative"}}},
   {"data": {"values": [{}]}, "mark": {"type": "text", "text": "Control", "fontSize": 19, "color": "#3d3aa6", "align": "left", "baseline": "alphabetic"}, "encoding": {"x": {"datum": -0.5, "type": "quantitative"}, "y": {"datum": 0.442, "type": "quantitative"}}}
  ]},
 {"width": 231, "height": 240,
  "title": {"text": "B", "dx": -31, "dy": 26},
  "layer": [
   {"data": {"name": "lv"}, "transform": [{"filter": "datum.p == 'B' && datum.k == 'base'"}], "mark": {"type": "rule", "color": "#222222", "strokeWidth": 1.5, "strokeDash": [7, 5]}, "encoding": {"x": {"field": "x", "type": "quantitative", "scale": {"domain": [0, 231], "nice": false, "zero": false}, "axis": null}, "x2": {"field": "x2"}, "y": {"field": "v", "type": "quantitative", "scale": {"domain": [-190, 50], "nice": false, "zero": false}, "axis": null}}},
   {"data": {"name": "lv"}, "transform": [{"filter": "datum.p == 'B' && datum.k == 'peak'"}], "mark": {"type": "rule", "color": "#9a9a9a", "strokeWidth": 1.5, "strokeDash": [7, 5]}, "encoding": {"x": {"field": "x", "type": "quantitative"}, "x2": {"field": "x2"}, "y": {"field": "v", "type": "quantitative"}}},
   {"data": {"name": "tr"}, "transform": [{"filter": "datum.p == 'B'"}], "mark": {"type": "line", "strokeWidth": 1.6}, "encoding": {"x": {"field": "x", "type": "quantitative"}, "y": {"field": "v", "type": "quantitative"}, "stroke": {"field": "tr", "type": "nominal", "scale": {"domain": ["THL_B","RHC_B","Ctl_E","GDP_E","BAP_E","Ctl_G","THL_G"], "range": ["#9c4a1c","#ee3a2c","#4646c8","#b154b1","#a6a6a6","#3838b8","#a34a1e"]}, "legend": null}, "detail": {"field": "s"}}},
   {"data": {"name": "st"}, "transform": [{"filter": "datum.p == 'B'"}], "mark": {"type": "point", "shape": "triangle-down", "filled": true, "size": 170, "stroke": "#2a1a10", "strokeWidth": 0.8, "opacity": 1}, "encoding": {"x": {"field": "x", "type": "quantitative"}, "y": {"field": "v", "type": "quantitative"}, "fill": {"field": "tr", "type": "nominal", "scale": {"domain": ["THL_B","RHC_B","Ctl_E","GDP_E","BAP_E","Ctl_G","THL_G"], "range": ["#8a3a14","#e8302a","#2e2e90","#8a2a80","#8a8a8a","#2e2e88","#a85a3c"]}, "legend": null}}},
   {"data": {"name": "lab"}, "transform": [{"filter": "datum.p == 'B'"}], "mark": {"type": "text", "fontSize": 20, "color": "#231f20", "align": "center", "baseline": "alphabetic"}, "encoding": {"x": {"field": "x", "type": "quantitative"}, "y": {"field": "v", "type": "quantitative"}, "text": {"field": "text"}}},
   {"data": {"name": "nm"}, "transform": [{"filter": "datum.p == 'B'"}], "mark": {"type": "text", "fontSize": 18, "align": "center", "baseline": "alphabetic"}, "encoding": {"x": {"field": "x", "type": "quantitative"}, "y": {"field": "v", "type": "quantitative"}, "text": {"field": "text"}, "color": {"field": "tr", "type": "nominal", "scale": {"domain": ["THL_B","RHC_B","Ctl_E","GDP_E","BAP_E","Ctl_G","THL_G"], "range": ["#9e4a32","#ee3b2b","#3a37a8","#8e2c86","#a8a8a8","#3a37a8","#a0522d"]}, "legend": null}}},
   {"data": {"name": "sb"}, "transform": [{"filter": "datum.p == 'B'"}], "mark": {"type": "rule", "color": "#111111", "strokeWidth": 2}, "encoding": {"x": {"field": "x", "type": "quantitative"}, "x2": {"field": "x2"}, "y": {"field": "v", "type": "quantitative"}, "y2": {"field": "v2"}}}
  ]},
 {"width": 175, "height": 236,
  "title": {"text": "C", "dx": -99, "dy": 25},
  "layer": [
   {"data": {"values": [{}]}, "mark": {"type": "rule", "color": "#555555", "strokeWidth": 1.2}, "encoding": {
     "x": {"datum": 0, "type": "quantitative", "scale": {"domain": [0, 3.72], "nice": false, "zero": false}, "axis": null},
     "y": {"datum": -80, "type": "quantitative", "scale": {"domain": [-80, 44.8], "nice": false, "zero": false}, "axis": {"values": [-80,-60,-40,-20,0,20,40], "labelExpr": "'' + datum.value", "title": ["KA  induced change", "of EPSC (%)"], "titleFontSize": 26, "titleLineHeight": 27, "titleX": -57, "titleY": 141, "titleBaseline": "alphabetic", "titleAlign": "center", "domain": false, "labelPadding": 1}},
     "y2": {"datum": 40}}},
   {"data": {"values": [{}]}, "mark": {"type": "rule", "color": "#222222", "strokeWidth": 1.5, "strokeDash": [12, 8]}, "encoding": {"x": {"datum": 0, "type": "quantitative"}, "x2": {"datum": 3.72}, "y": {"datum": 0, "type": "quantitative"}}},
   {"data": {"name": "C"}, "mark": {"type": "point", "shape": "square", "filled": true, "size": 80, "strokeWidth": 1, "opacity": 1}, "encoding": {"x": {"field": "x", "type": "quantitative"}, "y": {"field": "v", "type": "quantitative"},
     "fill": {"field": "g", "type": "nominal", "scale": {"domain": ["Control","-100mV","MPEP","BDM"], "range": ["#2a2a9c","#e8262a","#151515","#a3a3a3"]}, "legend": null},
     "stroke": {"field": "g", "type": "nominal", "scale": {"domain": ["Control","-100mV","MPEP","BDM"], "range": ["#12124a","#6a0a0a","#000000","#4a4a4a"]}, "legend": null}}},
   {"data": {"name": "Csum"}, "mark": {"type": "rule", "color": "#333333", "strokeWidth": 1.3}, "encoding": {"x": {"field": "x", "type": "quantitative"}, "y": {"field": "lo", "type": "quantitative"}, "y2": {"field": "hi"}}},
   {"data": {"name": "Csum"}, "mark": {"type": "tick", "orient": "horizontal", "size": 28, "thickness": 1.5, "color": "#333333", "opacity": 1}, "encoding": {"x": {"field": "x", "type": "quantitative"}, "y": {"field": "mean", "type": "quantitative"}}},
   {"data": {"name": "Csum"}, "mark": {"type": "tick", "orient": "horizontal", "size": 7, "thickness": 1.3, "color": "#333333", "opacity": 1}, "encoding": {"x": {"field": "x", "type": "quantitative"}, "y": {"field": "lo", "type": "quantitative"}}},
   {"data": {"name": "Csum"}, "mark": {"type": "tick", "orient": "horizontal", "size": 7, "thickness": 1.3, "color": "#333333", "opacity": 1}, "encoding": {"x": {"field": "x", "type": "quantitative"}, "y": {"field": "hi", "type": "quantitative"}}},
   {"data": {"values": [{}]}, "mark": {"type": "text", "text": "Control", "fontSize": 20, "color": "#3434a8", "align": "left", "baseline": "alphabetic"}, "encoding": {"x": {"datum": 0.06, "type": "quantitative"}, "y": {"datum": 28.2, "type": "quantitative"}}},
   {"data": {"values": [{}]}, "mark": {"type": "text", "text": "MPEP", "fontSize": 20, "color": "#231f20", "align": "left", "baseline": "alphabetic"}, "encoding": {"x": {"datum": 1.98, "type": "quantitative"}, "y": {"datum": 28.2, "type": "quantitative"}}},
   {"data": {"values": [{}]}, "mark": {"type": "text", "text": "-100mV", "fontSize": 20, "color": "#e8302a", "align": "left", "baseline": "alphabetic"}, "encoding": {"x": {"datum": 0.6, "type": "quantitative"}, "y": {"datum": 12.3, "type": "quantitative"}}},
   {"data": {"values": [{}]}, "mark": {"type": "text", "text": "BDM", "fontSize": 20, "color": "#999999", "align": "left", "baseline": "alphabetic"}, "encoding": {"x": {"datum": 2.76, "type": "quantitative"}, "y": {"datum": 12.3, "type": "quantitative"}}}
  ]}
], "spacing": 0, "bounds": "flush", "resolve": {"scale": {"fill": "independent", "stroke": "independent", "color": "independent"}}},
{"concat": [
 {"hconcat": [
  {"width": 87, "height": 1, "data": {"values": [{}]}, "mark": {"type": "point", "size": 0, "opacity": 0}, "encoding": {}},
  {"width": 243, "height": 241,
   "title": {"text": "D", "dx": -87, "dy": 18},
   "layer": [
    {"data": {"values": [{}]}, "mark": {"type": "rule", "color": "#555555", "strokeWidth": 1.2}, "encoding": {
      "x": {"datum": -40, "type": "quantitative", "scale": {"domain": [-40, 152.5], "nice": false, "zero": false}, "axis": {"values": [-40,0,40,80], "labelExpr": "'' + datum.value", "title": "% inhibition of EPSC", "titleFontSize": 25, "titleX": 80, "titleY": 57, "titleBaseline": "alphabetic", "titleAlign": "center", "domain": false, "labelPadding": 4}},
      "x2": {"datum": 95},
      "y": {"datum": -5.5, "type": "quantitative", "scale": {"domain": [-5.5, 153], "nice": false, "zero": false}, "axis": {"values": [0,25,50,75,100,125,150], "title": "Current  (pA)", "titleFontSize": 26, "titleX": -55, "titleY": 124, "titleBaseline": "alphabetic", "titleAlign": "center", "labelPadding": 5}}}},
    {"data": {"name": "D"}, "mark": {"type": "point", "shape": "square", "filled": true, "fill": "#111111", "stroke": "#000000", "strokeWidth": 0.5, "size": 64, "opacity": 1}, "encoding": {"x": {"field": "x", "type": "quantitative", "title": "% inhibition of EPSC"}, "y": {"field": "y", "type": "quantitative", "title": "Current  (pA)"}}},
    {"data": {"values": [{}]}, "mark": {"type": "rule", "color": "#e8302a", "strokeWidth": 1.5}, "encoding": {"x": {"datum": -31.5, "type": "quantitative"}, "y": {"datum": 13.6, "type": "quantitative"}, "x2": {"datum": 79.5}, "y2": {"datum": 49.3}}},
    {"data": {"values": [{}]}, "mark": {"type": "text", "text": "r² = 0.035", "fontSize": 19, "color": "#231f20", "align": "left", "baseline": "alphabetic"}, "encoding": {"x": {"datum": -27.7, "type": "quantitative"}, "y": {"datum": 131, "type": "quantitative"}}}
   ]},
  {"width": 307, "height": 243,
   "title": {"text": "E", "dx": -62, "dy": 13},
   "layer": [
    {"data": {"values": [{}]}, "mark": {"type": "rect", "fill": {"gradient": "linear", "x1": 0, "y1": 0, "x2": 1, "y2": 0, "stops": [{"offset": 0, "color": "#d0d2d4"}, {"offset": 0.5, "color": "#909193"}, {"offset": 1, "color": "#3c3c3c"}]}},
     "encoding": {
      "x": {"datum": 10, "type": "quantitative", "scale": {"domain": [-1, 42.2], "nice": false, "zero": false}, "axis": {"values": [0,10,20,30,40], "title": "Time (min)", "titleFontSize": 24, "titleX": 149, "titleY": 50, "titleBaseline": "alphabetic", "titleAlign": "center", "labelPadding": 0}},
      "x2": {"datum": 25},
      "y": {"datum": 0.4, "type": "quantitative", "scale": {"domain": [0.4, 1.464], "nice": false, "zero": false}, "axis": {"values": [0.6,0.8,1,1.2,1.4], "format": "~g", "title": "Norm EPSC amp", "titleFontSize": 26, "titleX": -42, "titleY": 128, "titleBaseline": "alphabetic", "titleAlign": "center", "domain": false, "labelPadding": 4}},
      "y2": {"datum": 1.42}}},
    {"data": {"values": [{}]}, "mark": {"type": "rule", "color": "#555555", "strokeWidth": 1.2}, "encoding": {"x": {"datum": -1, "type": "quantitative"}, "y": {"datum": 0.4, "type": "quantitative"}, "y2": {"datum": 1.4}}},
    {"data": {"values": [{}]}, "mark": {"type": "rule", "color": "#222222", "strokeWidth": 1.5, "strokeDash": [12, 7]}, "encoding": {"x": {"datum": -1, "type": "quantitative"}, "x2": {"datum": 40}, "y": {"datum": 1, "type": "quantitative"}}},
    {"data": {"name": "E"}, "mark": {"type": "errorbar", "color": "#3a3a3a", "rule": {"strokeWidth": 1.3}}, "encoding": {"x": {"field": "t", "type": "quantitative", "title": "Time (min)"}, "y": {"field": "v", "type": "quantitative", "title": "Norm EPSC amp"}, "yError": {"field": "e"}}},
    {"data": {"name": "E"}, "transform": [{"filter": "datum.g == 'Control'"}], "mark": {"type": "point", "shape": "square", "filled": true, "fill": "#2b64c8", "stroke": "#10285a", "strokeWidth": 1, "size": 110, "opacity": 1}, "encoding": {"x": {"field": "t", "type": "quantitative", "title": "Time (min)"}, "y": {"field": "v", "type": "quantitative", "title": "Norm EPSC amp"}}},
    {"data": {"name": "E"}, "transform": [{"filter": "datum.g == 'GDP'"}], "mark": {"type": "point", "shape": "circle", "filled": true, "fill": "#9a2f92", "stroke": "#4c124a", "strokeWidth": 1, "size": 140, "opacity": 1}, "encoding": {"x": {"field": "t", "type": "quantitative", "title": "Time (min)"}, "y": {"field": "v", "type": "quantitative", "title": "Norm EPSC amp"}}},
    {"data": {"name": "E"}, "transform": [{"filter": "datum.g == 'BAPTA'"}], "mark": {"type": "point", "shape": "triangle-up", "filled": true, "fill": "#a5a5a5", "stroke": "#3d3d3d", "strokeWidth": 1, "size": 170, "opacity": 1}, "encoding": {"x": {"field": "t", "type": "quantitative", "title": "Time (min)"}, "y": {"field": "v", "type": "quantitative", "title": "Norm EPSC amp"}}},
    {"data": {"values": [{}]}, "mark": {"type": "text", "text": "KA", "fontSize": 19, "fontWeight": "bold", "color": "#ffffff", "align": "center", "baseline": "middle"}, "encoding": {"x": {"datum": 17.3, "type": "quantitative"}, "y": {"datum": 1.343, "type": "quantitative"}}},
    {"data": {"values": [{}]}, "mark": {"type": "text", "text": "100 nM", "fontSize": 19, "fontWeight": "bold", "color": "#ffffff", "align": "center", "baseline": "middle"}, "encoding": {"x": {"datum": 17.5, "type": "quantitative"}, "y": {"datum": 1.216, "type": "quantitative"}}},
    {"data": {"values": [{}]}, "mark": {"type": "text", "text": "GDPβS", "fontSize": 19.5, "color": "#8e2c86", "align": "left", "baseline": "alphabetic"}, "encoding": {"x": {"datum": -0.3, "type": "quantitative"}, "y": {"datum": 0.741, "type": "quantitative"}}},
    {"data": {"values": [{}]}, "mark": {"type": "text", "text": "BAPTA", "fontSize": 19.5, "color": "#a8a8a8", "align": "left", "baseline": "alphabetic"}, "encoding": {"x": {"datum": -0.3, "type": "quantitative"}, "y": {"datum": 0.61, "type": "quantitative"}}},
    {"data": {"values": [{}]}, "mark": {"type": "text", "text": "Control", "fontSize": 19.5, "color": "#3a37a8", "align": "left", "baseline": "alphabetic"}, "encoding": {"x": {"datum": -0.3, "type": "quantitative"}, "y": {"datum": 0.478, "type": "quantitative"}}}
   ]},
  {"width": 129, "height": 243,
   "layer": [
    {"data": {"name": "lv"}, "transform": [{"filter": "datum.p == 'E' && datum.k == 'base'"}], "mark": {"type": "rule", "color": "#222222", "strokeWidth": 1.3, "strokeDash": [5, 4]}, "encoding": {"x": {"field": "x", "type": "quantitative", "scale": {"domain": [0, 129], "nice": false, "zero": false}, "axis": null}, "x2": {"field": "x2"}, "y": {"field": "v", "type": "quantitative", "scale": {"domain": [-243, 0], "nice": false, "zero": false}, "axis": null}}},
    {"data": {"name": "lv"}, "transform": [{"filter": "datum.p == 'E' && datum.k == 'peak'"}], "mark": {"type": "rule", "color": "#9a9a9a", "strokeWidth": 1.3, "strokeDash": [5, 4]}, "encoding": {"x": {"field": "x", "type": "quantitative"}, "x2": {"field": "x2"}, "y": {"field": "v", "type": "quantitative"}}},
    {"data": {"name": "tr"}, "transform": [{"filter": "datum.p == 'E'"}], "mark": {"type": "line", "strokeWidth": 1.4}, "encoding": {"x": {"field": "x", "type": "quantitative"}, "y": {"field": "v", "type": "quantitative"}, "stroke": {"field": "tr", "type": "nominal", "scale": {"domain": ["THL_B","RHC_B","Ctl_E","GDP_E","BAP_E","Ctl_G","THL_G"], "range": ["#9c4a1c","#ee3a2c","#4646c8","#b154b1","#a6a6a6","#3838b8","#a34a1e"]}, "legend": null}, "detail": {"field": "s"}}},
    {"data": {"name": "st"}, "transform": [{"filter": "datum.p == 'E'"}], "mark": {"type": "point", "shape": "triangle-down", "filled": true, "size": 130, "stroke": "#222222", "strokeWidth": 0.6, "opacity": 1}, "encoding": {"x": {"field": "x", "type": "quantitative"}, "y": {"field": "v", "type": "quantitative"}, "fill": {"field": "tr", "type": "nominal", "scale": {"domain": ["THL_B","RHC_B","Ctl_E","GDP_E","BAP_E","Ctl_G","THL_G"], "range": ["#8a3a14","#e8302a","#2e2e90","#8a2a80","#8a8a8a","#2e2e88","#a85a3c"]}, "legend": null}}},
    {"data": {"name": "lab"}, "transform": [{"filter": "datum.p == 'E'"}], "mark": {"type": "text", "fontSize": 14, "color": "#231f20", "align": "center", "baseline": "alphabetic"}, "encoding": {"x": {"field": "x", "type": "quantitative"}, "y": {"field": "v", "type": "quantitative"}, "text": {"field": "text"}}},
    {"data": {"name": "nm"}, "transform": [{"filter": "datum.p == 'E'"}], "mark": {"type": "text", "fontSize": 16, "align": "center", "baseline": "alphabetic"}, "encoding": {"x": {"field": "x", "type": "quantitative"}, "y": {"field": "v", "type": "quantitative"}, "text": {"field": "text"}, "color": {"field": "tr", "type": "nominal", "scale": {"domain": ["THL_B","RHC_B","Ctl_E","GDP_E","BAP_E","Ctl_G","THL_G"], "range": ["#9e4a32","#ee3b2b","#3a37a8","#8e2c86","#a8a8a8","#3a37a8","#a0522d"]}, "legend": null}}},
    {"data": {"name": "sb"}, "transform": [{"filter": "datum.p == 'E'"}], "mark": {"type": "rule", "color": "#111111", "strokeWidth": 2}, "encoding": {"x": {"field": "x", "type": "quantitative"}, "x2": {"field": "x2"}, "y": {"field": "v", "type": "quantitative"}, "y2": {"field": "v2"}}}
   ]}
 ], "spacing": 0, "bounds": "flush", "resolve": {"scale": {"fill": "independent", "stroke": "independent", "color": "independent"}}},
 {"hconcat": [
  {"width": 70, "height": 1, "data": {"values": [{}]}, "mark": {"type": "point", "size": 0, "opacity": 0}, "encoding": {}},
  {"width": 290, "height": 225,
   "title": {"text": "F", "dx": -70, "dy": 6},
   "layer": [
    {"data": {"values": [{}]}, "mark": {"type": "rect", "fill": "#8b82c9"},
     "encoding": {
      "x": {"datum": 10, "type": "quantitative", "scale": {"domain": [-1.1, 40.3], "nice": false, "zero": false}, "axis": {"values": [0,10,20,30,40], "title": "Time (min)", "titleFontSize": 24, "titleX": 152, "titleY": 49, "titleBaseline": "alphabetic", "titleAlign": "center", "labelPadding": 3}},
      "x2": {"datum": 25.2},
      "y": {"datum": 0.4, "type": "quantitative", "scale": {"domain": [0.4, 1.447], "nice": false, "zero": false}, "axis": {"values": [0.6,0.8,1,1.2,1.4], "format": "~g", "title": "Norm EPSC amp", "titleFontSize": 26, "titleX": -43, "titleY": 109, "titleBaseline": "alphabetic", "titleAlign": "center", "domain": false, "labelPadding": 1}},
      "y2": {"datum": 1.447}}},
    {"data": {"values": [{}]}, "mark": {"type": "rule", "color": "#555555", "strokeWidth": 1.2}, "encoding": {"x": {"datum": -1.1, "type": "quantitative"}, "y": {"datum": 0.4, "type": "quantitative"}, "y2": {"datum": 1.4}}},
    {"data": {"values": [{}]}, "mark": {"type": "rule", "color": "#222222", "strokeWidth": 1.5, "strokeDash": [12, 7]}, "encoding": {"x": {"datum": -1.1, "type": "quantitative"}, "x2": {"datum": 40}, "y": {"datum": 1, "type": "quantitative"}}},
    {"data": {"name": "F"}, "mark": {"type": "errorbar", "color": "#3a3a3a", "rule": {"strokeWidth": 1.3}}, "encoding": {"x": {"field": "t", "type": "quantitative", "title": "Time (min)"}, "y": {"field": "v", "type": "quantitative", "title": "Norm EPSC amp"}, "yError": {"field": "e"}}},
    {"data": {"name": "F"}, "transform": [{"filter": "datum.g == 'Control'"}], "mark": {"type": "point", "shape": "square", "filled": true, "fill": "#2b64c8", "stroke": "#10285a", "strokeWidth": 1, "size": 100, "opacity": 1}, "encoding": {"x": {"field": "t", "type": "quantitative", "title": "Time (min)"}, "y": {"field": "v", "type": "quantitative", "title": "Norm EPSC amp"}}},
    {"data": {"name": "F"}, "transform": [{"filter": "datum.g == 'THL'"}], "mark": {"type": "point", "shape": "triangle-up", "filled": true, "fill": "#9a4214", "stroke": "#3c1606", "strokeWidth": 1, "size": 150, "opacity": 1}, "encoding": {"x": {"field": "t", "type": "quantitative", "title": "Time (min)"}, "y": {"field": "v", "type": "quantitative", "title": "Norm EPSC amp"}}},
    {"data": {"values": [{}]}, "mark": {"type": "text", "text": "DHPG", "fontSize": 21, "color": "#231f20", "align": "center", "baseline": "middle"}, "encoding": {"x": {"datum": 17.6, "type": "quantitative"}, "y": {"datum": 1.358, "type": "quantitative"}}},
    {"data": {"values": [{}]}, "mark": {"type": "text", "text": "50 μM", "fontSize": 21, "color": "#231f20", "align": "center", "baseline": "middle"}, "encoding": {"x": {"datum": 17.6, "type": "quantitative"}, "y": {"datum": 1.209, "type": "quantitative"}}},
    {"data": {"values": [{}]}, "mark": {"type": "text", "text": "THL", "fontSize": 20, "color": "#9d4b33", "align": "left", "baseline": "alphabetic"}, "encoding": {"x": {"datum": -0.8, "type": "quantitative"}, "y": {"datum": 0.66, "type": "quantitative"}}},
    {"data": {"values": [{}]}, "mark": {"type": "text", "text": "Control", "fontSize": 20, "color": "#3d3aa6", "align": "left", "baseline": "alphabetic"}, "encoding": {"x": {"datum": -0.8, "type": "quantitative"}, "y": {"datum": 0.52, "type": "quantitative"}}}
   ]},
  {"width": 406, "height": 225,
   "title": {"text": "G", "dx": 35, "dy": 34},
   "layer": [
    {"data": {"name": "lv"}, "transform": [{"filter": "datum.p == 'G' && datum.k == 'base'"}], "mark": {"type": "rule", "color": "#222222", "strokeWidth": 1.6, "strokeDash": [9, 6]}, "encoding": {"x": {"field": "x", "type": "quantitative", "scale": {"domain": [0, 406], "nice": false, "zero": false}, "axis": null}, "x2": {"field": "x2"}, "y": {"field": "v", "type": "quantitative", "scale": {"domain": [-225, 0], "nice": false, "zero": false}, "axis": null}}},
    {"data": {"name": "lv"}, "transform": [{"filter": "datum.p == 'G' && datum.k == 'peak'"}], "mark": {"type": "rule", "color": "#9a9a9a", "strokeWidth": 1.6, "strokeDash": [8, 6]}, "encoding": {"x": {"field": "x", "type": "quantitative"}, "x2": {"field": "x2"}, "y": {"field": "v", "type": "quantitative"}}},
    {"data": {"name": "tr"}, "transform": [{"filter": "datum.p == 'G'"}], "mark": {"type": "line", "strokeWidth": 1.6}, "encoding": {"x": {"field": "x", "type": "quantitative"}, "y": {"field": "v", "type": "quantitative"}, "stroke": {"field": "tr", "type": "nominal", "scale": {"domain": ["THL_B","RHC_B","Ctl_E","GDP_E","BAP_E","Ctl_G","THL_G"], "range": ["#9c4a1c","#ee3a2c","#4646c8","#b154b1","#a6a6a6","#3838b8","#a34a1e"]}, "legend": null}, "detail": {"field": "s"}}},
    {"data": {"name": "st"}, "transform": [{"filter": "datum.p == 'G'"}], "mark": {"type": "point", "shape": "triangle-down", "filled": true, "size": 180, "stroke": "#222222", "strokeWidth": 0.6, "opacity": 1}, "encoding": {"x": {"field": "x", "type": "quantitative"}, "y": {"field": "v", "type": "quantitative"}, "fill": {"field": "tr", "type": "nominal", "scale": {"domain": ["THL_B","RHC_B","Ctl_E","GDP_E","BAP_E","Ctl_G","THL_G"], "range": ["#8a3a14","#e8302a","#2e2e90","#8a2a80","#8a8a8a","#2e2e88","#a85a3c"]}, "legend": null}}},
    {"data": {"name": "lab"}, "transform": [{"filter": "datum.p == 'G'"}], "mark": {"type": "text", "fontSize": 20.5, "color": "#231f20", "align": "center", "baseline": "alphabetic"}, "encoding": {"x": {"field": "x", "type": "quantitative"}, "y": {"field": "v", "type": "quantitative"}, "text": {"field": "text"}}},
    {"data": {"name": "nm"}, "transform": [{"filter": "datum.p == 'G'"}], "mark": {"type": "text", "fontSize": 21, "align": "center", "baseline": "alphabetic"}, "encoding": {"x": {"field": "x", "type": "quantitative"}, "y": {"field": "v", "type": "quantitative"}, "text": {"field": "text"}, "color": {"field": "tr", "type": "nominal", "scale": {"domain": ["THL_B","RHC_B","Ctl_E","GDP_E","BAP_E","Ctl_G","THL_G"], "range": ["#9e4a32","#ee3b2b","#3a37a8","#8e2c86","#a8a8a8","#3a37a8","#a0522d"]}, "legend": null}}},
    {"data": {"name": "sb"}, "transform": [{"filter": "datum.p == 'G'"}], "mark": {"type": "rule", "color": "#111111", "strokeWidth": 2}, "encoding": {"x": {"field": "x", "type": "quantitative"}, "x2": {"field": "x2"}, "y": {"field": "v", "type": "quantitative"}, "y2": {"field": "v2"}}}
   ]}
 ], "spacing": 0, "bounds": "flush", "resolve": {"scale": {"fill": "independent", "stroke": "independent", "color": "independent"}}}
], "columns": 1, "align": "none", "spacing": 19, "resolve": {"scale": {"fill": "independent", "stroke": "independent", "color": "independent"}}}
],
"columns": 1, "align": "none", "spacing": 12,
"resolve": {"scale": {"fill": "independent", "stroke": "independent", "color": "independent"}}
}
